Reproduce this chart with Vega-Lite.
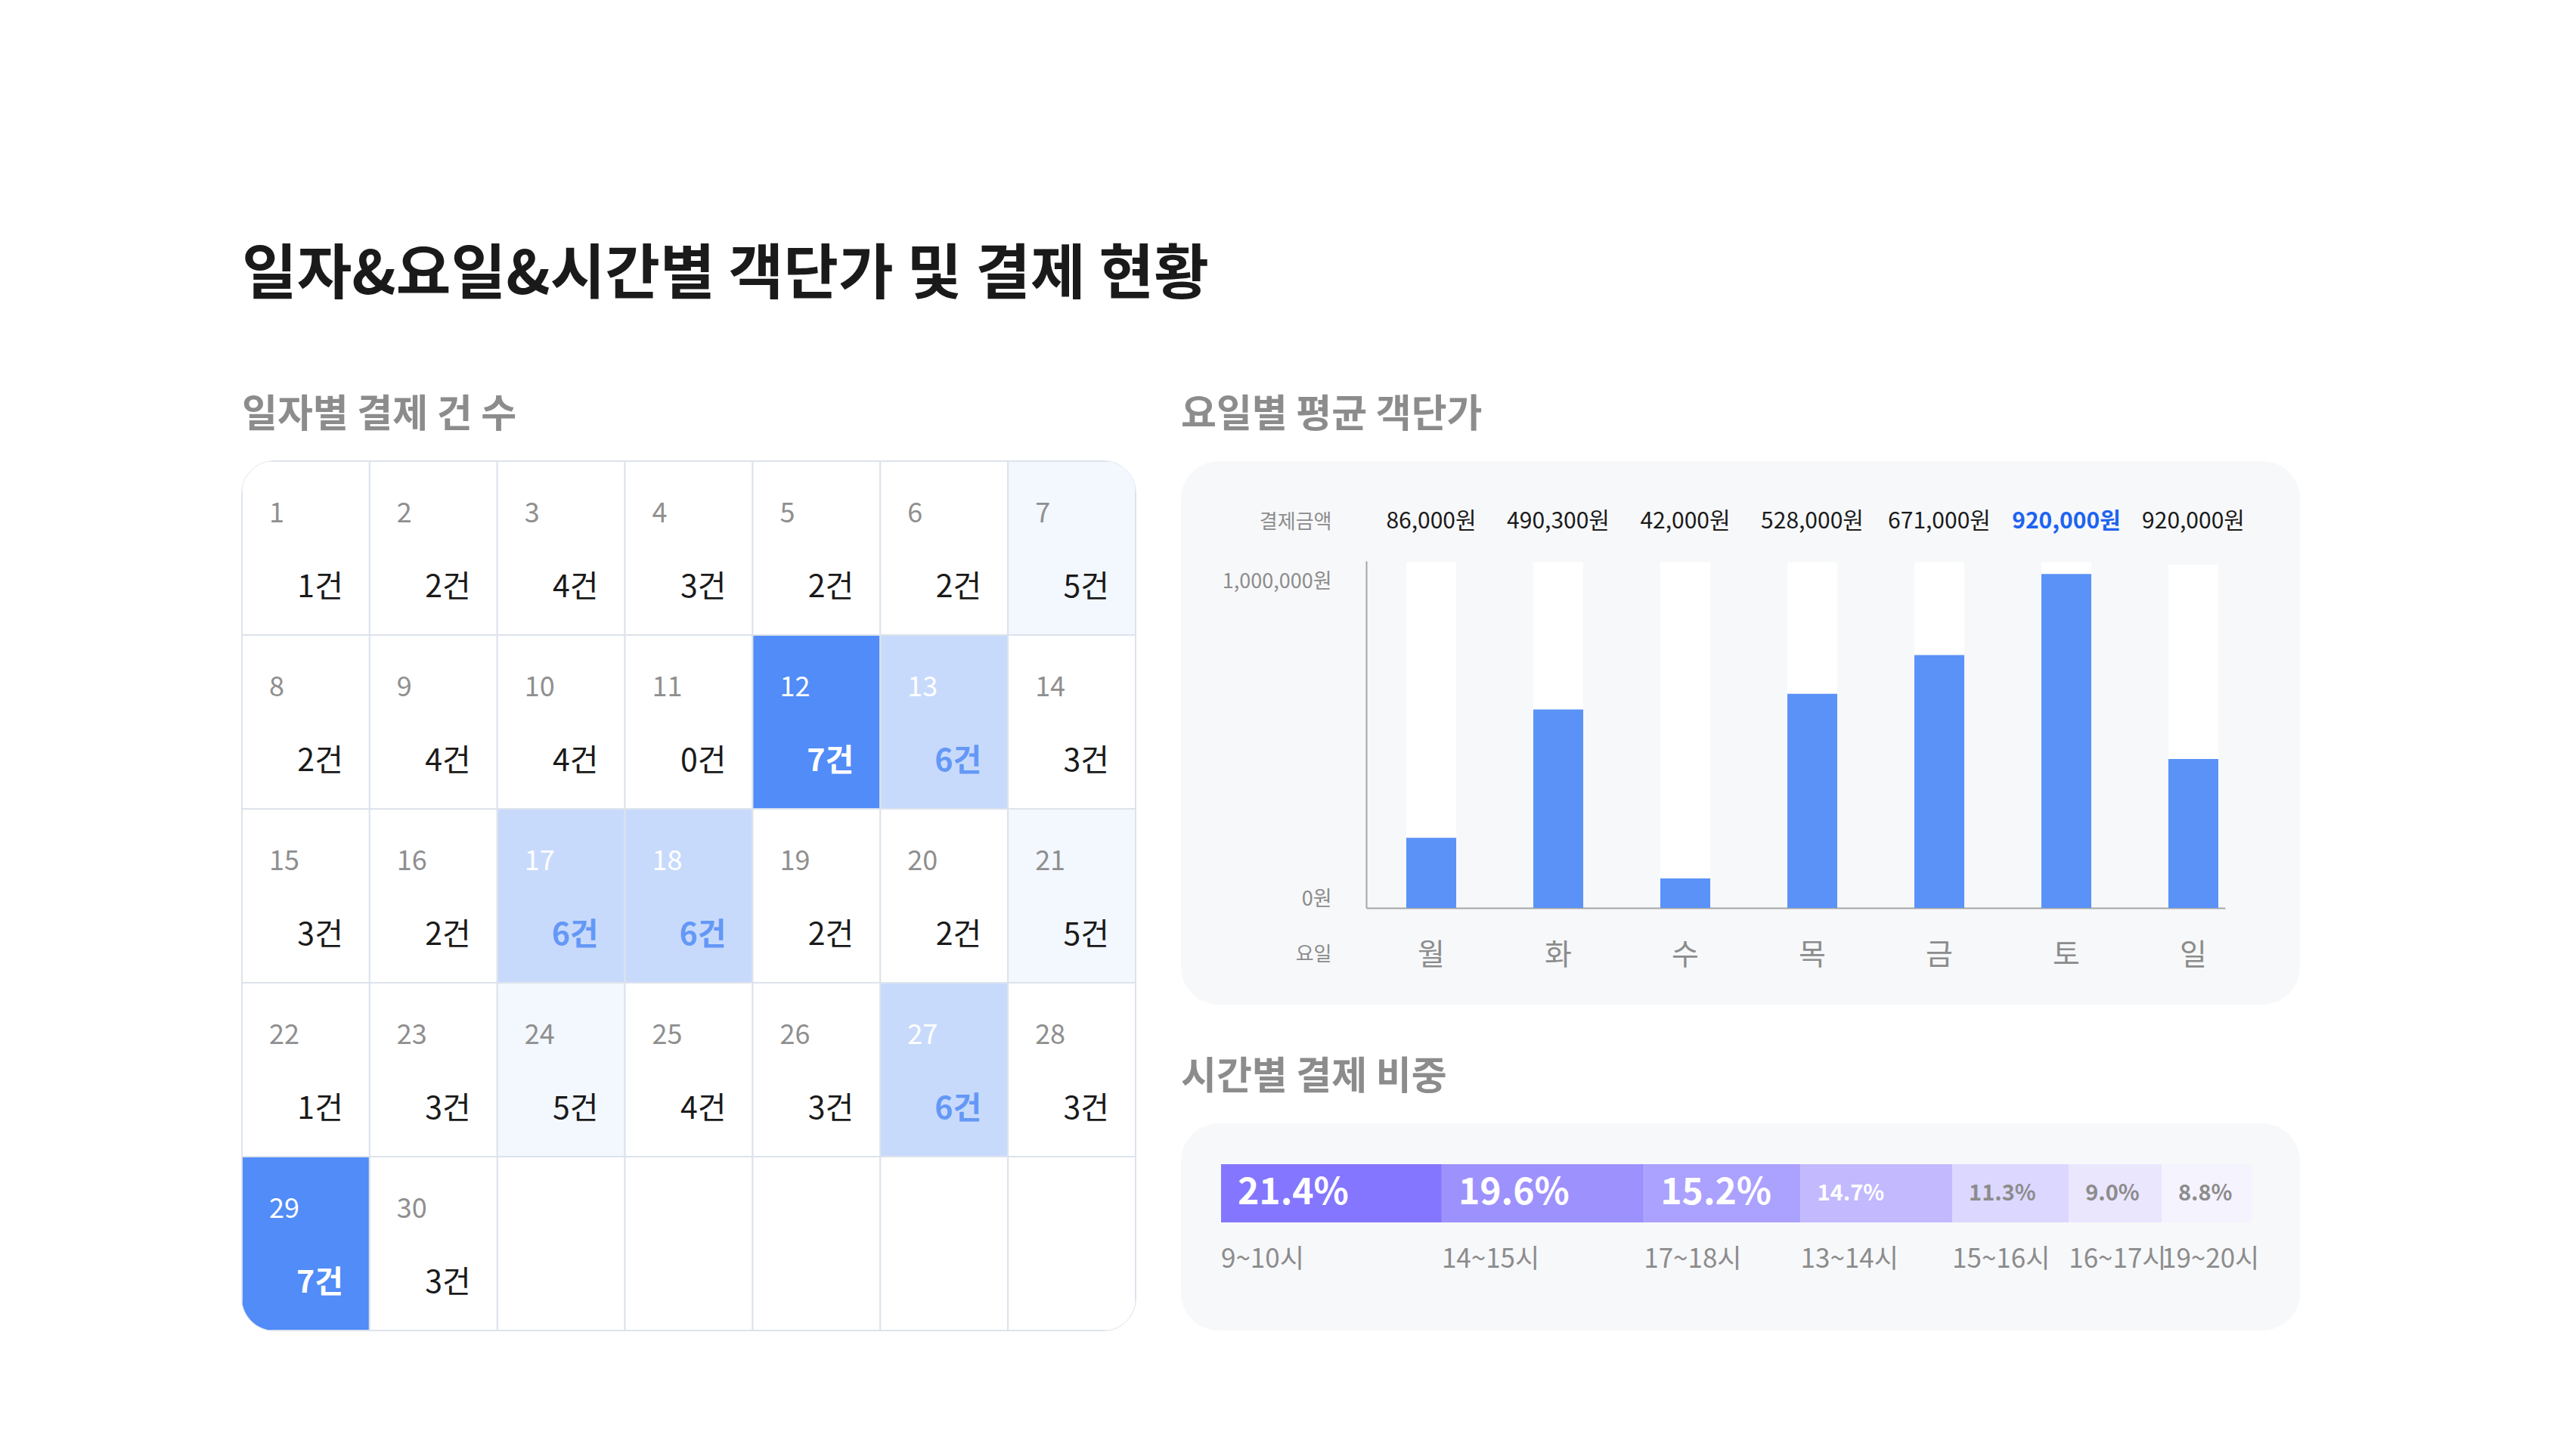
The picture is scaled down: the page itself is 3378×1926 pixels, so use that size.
{
  "$schema": "https://vega.github.io/schema/vega-lite/v6.json",
  "background": "#ffffff",
  "padding": {"left": 319, "top": 326, "right": 338, "bottom": 100},
  "config": {
    "font": "Noto Sans CJK KR",
    "view": {"stroke": null},
    "axis": {"grid": false}
  },
  "title": {
    "text": "일자&요일&시간별 객단가 및 결제 현황",
    "anchor": "start",
    "frame": "group",
    "fontSize": 79,
    "fontWeight": "bold",
    "color": "#1a1a1a",
    "offset": 117
  },
  "spacing": 59,
  "hconcat": [
    {
      "title": {"text": "일자별 결제 건 수", "anchor": "start", "fontSize": 51, "fontWeight": "bold", "color": "#8c8c8c", "offset": 34},
      "width": 1182,
      "height": 1150,
      "view": {"fill": "#ffffff", "stroke": "#dde3ec", "strokeWidth": 2, "cornerRadius": 43},
      "data": {
        "values": [
          {"week": 1, "dow": 1, "day": 1, "count": 1, "label": "1건"},
          {"week": 1, "dow": 2, "day": 2, "count": 2, "label": "2건"},
          {"week": 1, "dow": 3, "day": 3, "count": 4, "label": "4건"},
          {"week": 1, "dow": 4, "day": 4, "count": 3, "label": "3건"},
          {"week": 1, "dow": 5, "day": 5, "count": 2, "label": "2건"},
          {"week": 1, "dow": 6, "day": 6, "count": 2, "label": "2건"},
          {"week": 1, "dow": 7, "day": 7, "count": 5, "label": "5건"},
          {"week": 2, "dow": 1, "day": 8, "count": 2, "label": "2건"},
          {"week": 2, "dow": 2, "day": 9, "count": 4, "label": "4건"},
          {"week": 2, "dow": 3, "day": 10, "count": 4, "label": "4건"},
          {"week": 2, "dow": 4, "day": 11, "count": 0, "label": "0건"},
          {"week": 2, "dow": 5, "day": 12, "count": 7, "label": "7건"},
          {"week": 2, "dow": 6, "day": 13, "count": 6, "label": "6건"},
          {"week": 2, "dow": 7, "day": 14, "count": 3, "label": "3건"},
          {"week": 3, "dow": 1, "day": 15, "count": 3, "label": "3건"},
          {"week": 3, "dow": 2, "day": 16, "count": 2, "label": "2건"},
          {"week": 3, "dow": 3, "day": 17, "count": 6, "label": "6건"},
          {"week": 3, "dow": 4, "day": 18, "count": 6, "label": "6건"},
          {"week": 3, "dow": 5, "day": 19, "count": 2, "label": "2건"},
          {"week": 3, "dow": 6, "day": 20, "count": 2, "label": "2건"},
          {"week": 3, "dow": 7, "day": 21, "count": 5, "label": "5건"},
          {"week": 4, "dow": 1, "day": 22, "count": 1, "label": "1건"},
          {"week": 4, "dow": 2, "day": 23, "count": 3, "label": "3건"},
          {"week": 4, "dow": 3, "day": 24, "count": 5, "label": "5건"},
          {"week": 4, "dow": 4, "day": 25, "count": 4, "label": "4건"},
          {"week": 4, "dow": 5, "day": 26, "count": 3, "label": "3건"},
          {"week": 4, "dow": 6, "day": 27, "count": 6, "label": "6건"},
          {"week": 4, "dow": 7, "day": 28, "count": 3, "label": "3건"},
          {"week": 5, "dow": 1, "day": 29, "count": 7, "label": "7건"},
          {"week": 5, "dow": 2, "day": 30, "count": 3, "label": "3건"},
          {"week": 5, "dow": 3},
          {"week": 5, "dow": 4},
          {"week": 5, "dow": 5},
          {"week": 5, "dow": 6},
          {"week": 5, "dow": 7}
        ]
      },
      "encoding": {
        "x": {"field": "dow", "type": "ordinal", "scale": {"paddingInner": 0, "paddingOuter": 0}, "axis": null},
        "y": {"field": "week", "type": "ordinal", "scale": {"paddingInner": 0, "paddingOuter": 0}, "axis": null}
      },
      "layer": [
        {"mark": {"type": "rect", "clip": true, "fill": "#ffffff", "stroke": "#dde3ec", "strokeWidth": 2}},
        {
          "transform": [{"filter": "isValid(datum.count)"}],
          "mark": {"type": "rect", "clip": true, "stroke": "#dde3ec", "strokeWidth": 2},
          "encoding": {
            "fill": {"field": "count", "type": "quantitative", "scale": {"type": "threshold", "domain": [5, 6, 7], "range": ["#ffffff", "#f3f7fe", "#c8dafc", "#518cf8"]}, "legend": null}
          }
        },
        {
          "transform": [{"filter": "isValid(datum.day)"}],
          "mark": {"type": "text", "align": "left", "baseline": "middle", "dx": 36, "dy": 70, "fontSize": 36},
          "encoding": {
            "x": {"field": "dow", "type": "ordinal", "bandPosition": 0},
            "y": {"field": "week", "type": "ordinal", "bandPosition": 0},
            "text": {"field": "day"},
            "color": {"condition": {"test": "datum.count >= 6", "value": "#ffffff"}, "value": "#8f8f8f"}
          }
        },
        {
          "transform": [{"filter": "isValid(datum.count) && datum.count < 6"}],
          "mark": {"type": "text", "align": "right", "baseline": "middle", "dx": -35, "dy": 168, "fontSize": 41, "color": "#1a1a1a"},
          "encoding": {
            "x": {"field": "dow", "type": "ordinal", "bandPosition": 1},
            "y": {"field": "week", "type": "ordinal", "bandPosition": 0},
            "text": {"field": "label"}
          }
        },
        {
          "transform": [{"filter": "isValid(datum.count) && datum.count >= 6"}],
          "mark": {"type": "text", "align": "right", "baseline": "middle", "dx": -35, "dy": 168, "fontSize": 41, "fontWeight": "bold"},
          "encoding": {
            "x": {"field": "dow", "type": "ordinal", "bandPosition": 1},
            "y": {"field": "week", "type": "ordinal", "bandPosition": 0},
            "text": {"field": "label"},
            "color": {"condition": {"test": "datum.count >= 7", "value": "#ffffff"}, "value": "#6498f6"}
          }
        }
      ]
    },
    {
      "spacing": 71,
      "vconcat": [
        {
          "title": {"text": "요일별 평균 객단가", "anchor": "start", "fontSize": 51, "fontWeight": "bold", "color": "#8c8c8c", "offset": 34},
          "width": 1480,
          "height": 719,
          "view": {"fill": "#f7f8fa", "stroke": null, "cornerRadius": 50},
          "data": {
            "values": [
              {"day": "월", "amount": "86,000원", "value": 221000, "max": 1091000},
              {"day": "화", "amount": "490,300원", "value": 626000, "max": 1091000},
              {"day": "수", "amount": "42,000원", "value": 93000, "max": 1091000},
              {"day": "목", "amount": "528,000원", "value": 676000, "max": 1091000},
              {"day": "금", "amount": "671,000원", "value": 798000, "max": 1091000},
              {"day": "토", "amount": "920,000원", "value": 1054000, "max": 1091000},
              {"day": "일", "amount": "920,000원", "value": 470000, "max": 1083000}
            ]
          },
          "encoding": {
            "x": {
              "field": "day", "type": "nominal", "sort": null,
              "scale": {"range": [245, 1381], "paddingInner": 0.607, "paddingOuter": 0.1845, "align": 0.855},
              "axis": {
                "orient": "bottom", "offset": -128, "domainColor": "#a6a6a6", "domainWidth": 2,
                "ticks": false, "tickSize": 0, "labelAngle": 0, "labelFontSize": 39, "labelColor": "#8c8c8c",
                "labelPadding": 62, "labelBaseline": "middle",
                "title": "요일", "titleX": 199, "titleY": 61, "titleAlign": "right", "titleBaseline": "middle",
                "titleFontSize": 26, "titleColor": "#8c8c8c", "titleFontWeight": "normal"
              }
            }
          },
          "layer": [
            {
              "mark": {"type": "bar", "color": "#ffffff"},
              "encoding": {
                "y": {
                  "field": "max", "type": "quantitative",
                  "scale": {"domain": [0, 1095000], "range": [591, 132], "nice": false, "zero": true},
                  "axis": {
                    "orient": "left", "offset": -245, "values": [0, 1000000],
                    "labelExpr": "format(datum.value, ',') + '원'",
                    "domainColor": "#a6a6a6", "domainWidth": 2, "ticks": false, "tickSize": 0,
                    "labelColor": "#8c8c8c", "labelFontSize": 27, "labelPadding": 46, "labelOffset": -12, "labelBaseline": "middle",
                    "title": "결제금액", "titleAngle": 0, "titleAlign": "right", "titleBaseline": "middle",
                    "titleX": -46, "titleY": 80, "titleColor": "#8c8c8c", "titleFontSize": 26, "titleFontWeight": "normal"
                  }
                }
              }
            },
            {
              "mark": {"type": "bar", "color": "#5a92f7"},
              "encoding": {"y": {"field": "value", "type": "quantitative"}}
            },
            {
              "transform": [{"filter": "datum.day != '토'"}],
              "mark": {"type": "text", "baseline": "middle", "fontSize": 30, "color": "#1a1a1a"},
              "encoding": {"y": {"datum": 1220000}, "text": {"field": "amount"}}
            },
            {
              "transform": [{"filter": "datum.day == '토'"}],
              "mark": {"type": "text", "baseline": "middle", "fontSize": 30, "fontWeight": "bold", "color": "#1e63f0"},
              "encoding": {"y": {"datum": 1220000}, "text": {"field": "amount"}}
            }
          ]
        },
        {
          "title": {"text": "시간별 결제 비중", "anchor": "start", "fontSize": 51, "fontWeight": "bold", "color": "#8c8c8c", "offset": 34},
          "width": 1480,
          "height": 274,
          "view": {"fill": "#f7f8fa", "stroke": null, "cornerRadius": 50},
          "data": {
            "values": [
              {"hour": "9~10시", "share": 0.214},
              {"hour": "14~15시", "share": 0.196},
              {"hour": "17~18시", "share": 0.152},
              {"hour": "13~14시", "share": 0.147},
              {"hour": "15~16시", "share": 0.113},
              {"hour": "16~17시", "share": 0.090},
              {"hour": "19~20시", "share": 0.088}
            ]
          },
          "transform": [
            {"stack": "share", "groupby": [], "sort": [{"field": "share", "order": "descending"}], "as": ["s0", "s1"]}
          ],
          "encoding": {
            "y": {"datum": "시간대", "type": "nominal", "scale": {"range": [54, 131], "paddingInner": 0, "paddingOuter": 0}, "axis": null},
            "x": {"field": "s0", "type": "quantitative", "scale": {"domain": [0, 1], "range": [53, 1417], "nice": false, "zero": false}, "axis": null}
          },
          "layer": [
            {
              "mark": {"type": "bar"},
              "encoding": {
                "x2": {"field": "s1"},
                "color": {
                  "field": "hour", "type": "nominal", "sort": null,
                  "scale": {
                    "domain": ["9~10시", "14~15시", "17~18시", "13~14시", "15~16시", "16~17시", "19~20시"],
                    "range": ["#8476fe", "#9d91fe", "#aba1fe", "#c2b9fe", "#dcd7fe", "#eae6fe", "#f5f3fe"]
                  },
                  "legend": null
                }
              }
            },
            {
              "mark": {"type": "text", "align": "left", "baseline": "middle", "dx": 22, "fontWeight": "bold"},
              "encoding": {
                "text": {"field": "share", "type": "quantitative", "format": ".1%"},
                "color": {"condition": {"test": "datum.share >= 0.14", "value": "#ffffff"}, "value": "#8c8c8c"},
                "size": {"condition": {"test": "datum.share >= 0.15", "value": 48}, "value": 29}
              }
            },
            {
              "mark": {"type": "text", "align": "left", "baseline": "middle", "dx": 0, "dy": 87, "fontSize": 35, "color": "#8c8c8c"},
              "encoding": {"text": {"field": "hour"}}
            }
          ]
        }
      ]
    }
  ]
}
